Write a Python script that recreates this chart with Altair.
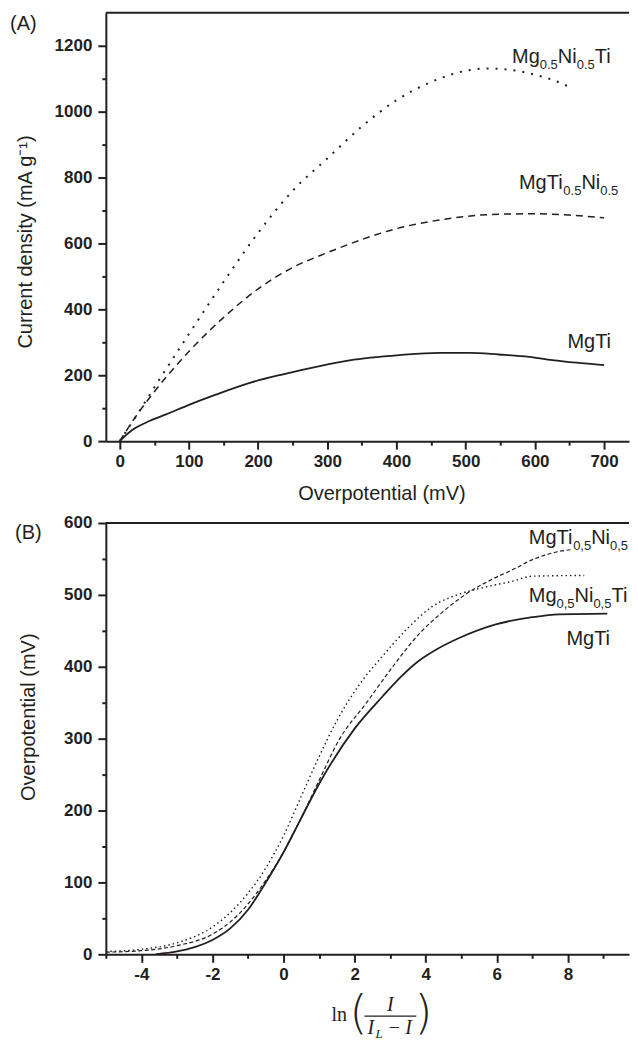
import altair as alt
import pandas as pd

INK = "#231f20"
SANS = "Liberation Sans"
SERIF = "Liberation Serif"

# ---------------- panel (A): current density vs overpotential ----------------
a_mgti_x = [0, 19, 43, 67, 101, 140, 188, 236, 289, 332, 404, 462, 505, 548, 592, 625, 660, 700]
a_mgti_y = [0, 35, 61, 81, 111, 142, 177, 203, 228, 245, 261, 268, 268, 263, 256, 246, 238, 231]
a_mgtini_x = [0, 25, 50, 100, 150, 200, 250, 300, 350, 400, 450, 500, 550, 600, 650, 700]
a_mgtini_y = [0, 80, 150, 272, 375, 462, 527, 572, 612, 645, 667, 682, 689, 690, 686, 678]
a_mgniti_x = [0, 25, 50, 100, 150, 200, 250, 300, 350, 400, 450, 500, 530, 560, 600, 630, 654]
a_mgniti_y = [0, 80, 163, 325, 483, 632, 760, 858, 955, 1035, 1090, 1124, 1131, 1128, 1112, 1093, 1071]

# ---------------- panel (B): overpotential vs ln(I/(IL-I)) ----------------
b_mgti_x = [-3.6, -3.0, -2.5, -2.0, -1.5, -1.0, -0.5, 0.0, 0.45, 1.01, 2.0, 2.79, 3.3, 3.8, 4.3, 4.94, 5.97, 7.0, 7.75, 9.11]
b_mgti_y = [0, 4, 10, 20, 36, 62, 100, 142, 185, 238, 314, 359, 386, 408, 424, 440, 459, 469, 473, 474]
b_mgniti_x = [-5.0, -4.0, -3.0, -2.0, -1.5, -1.0, -0.5, 0.0, 0.5, 1.0, 1.5, 2.13, 2.79, 3.54, 4.19, 4.94, 5.69, 6.44, 7.0, 8.46]
b_mgniti_y = [4, 7, 16, 38, 58, 85, 120, 165, 220, 275, 325, 375, 415, 456, 484, 501, 511, 519, 526, 527]
b_mgtini_x = [-5.0, -4.0, -3.0, -2.0, -1.5, -1.0, -0.5, 0.0, 0.45, 1.01, 1.57, 2.32, 3.07, 3.82, 4.47, 5.13, 5.88, 6.53, 7.0, 7.4, 7.7, 8.12]
b_mgtini_y = [3, 5, 12, 28, 45, 70, 103, 142, 185, 243, 299, 349, 400, 446, 476, 501, 522, 537, 549, 556, 560, 563]

# ---------------- annotation texts (main, subscript) ----------------
a_labels = [
    [("Mg", 0), ("0.5", 1), ("Ni", 0), ("0.5", 1), ("Ti", 0)],
    [("MgTi", 0), ("0.5", 1), ("Ni", 0), ("0.5", 1)],
    [("MgTi", 0)],
]
a_label_x = [567, 577, 647]
a_label_y = [1149, 764, 282]
b_labels = [
    [("MgTi", 0), ("0,5", 1), ("Ni", 0), ("0,5", 1)],
    [("Mg", 0), ("0,5", 1), ("Ni", 0), ("0,5", 1), ("Ti", 0)],
    [("MgTi", 0)],
]
b_label_x = [6.9, 6.9, 7.96]
b_label_y = [571, 490, 430]

a_x_ticks = list(range(0, 701, 50))
a_y_ticks = list(range(0, 1201, 100))
b_x_ticks = list(range(-5, 10))
b_y_ticks = list(range(0, 601, 50))

# ---------------- layout / style ----------------
W = 524
HA = 429
HB = 432
MAIN, SUB = 20, 13
ARIAL_W = {"M": 833, "g": 556, "N": 722, "i": 222, "T": 611, "0": 556, ".": 278, ",": 278, "5": 556}


def text_width(s, size):
    return sum(ARIAL_W.get(c, 556) for c in s) * size / 1000.0


def ticksize(step):
    return {"condition": {"test": f"datum.value % {step} === 0", "value": 8}, "value": 4}


xa_scale = alt.Scale(domain=[-20, 736], nice=False, zero=False)
ya_scale = alt.Scale(domain=[0, 1300], nice=False, zero=False)
xb_scale = alt.Scale(domain=[-5, 9.72], nice=False, zero=False)
yb_scale = alt.Scale(domain=[0, 600], nice=False, zero=False)

xa_axis = alt.Axis(title="Overpotential (mV)", values=a_x_ticks,
                   labelExpr="datum.value % 100 === 0 ? toString(datum.value) : ''",
                   tickSize=ticksize(100), labelPadding=4,
                   titleX=276, titleY=58, titleBaseline="alphabetic", titleAlign="center")
ya_axis = alt.Axis(title="Current density (mA g\u207b\u00b9)", values=a_y_ticks,
                   labelExpr="datum.value % 200 === 0 ? toString(datum.value) : ''",
                   tickSize=ticksize(200), labelPadding=6,
                   titleX=-74, titleY=229, titleAngle=270, titleBaseline="alphabetic", titleAlign="center")
xb_axis = alt.Axis(title="", values=b_x_ticks,
                   labelExpr="datum.value % 2 === 0 ? toString(datum.value) : ''",
                   tickSize=ticksize(2), labelPadding=4)
yb_axis = alt.Axis(title="Overpotential (mV)", values=b_y_ticks,
                   labelExpr="datum.value % 100 === 0 ? toString(datum.value) : ''",
                   tickSize=ticksize(100), labelPadding=6,
                   titleX=-71, titleY=194, titleAngle=270, titleBaseline="alphabetic", titleAlign="center")

PANEL_A = (xa_scale, ya_scale, xa_axis, ya_axis)
PANEL_B = (xb_scale, yb_scale, xb_axis, yb_axis)


def xy(panel):
    xs, ys, xax, yax = panel
    return dict(x=alt.X("x:Q", scale=xs, axis=xax), y=alt.Y("y:Q", scale=ys, axis=yax))


def line_layer(xs, ys, panel, width, dash=None):
    df = pd.DataFrame({"x": xs, "y": ys})
    kw = dict(color=INK, strokeWidth=width, interpolate="monotone", clip=True)
    if dash is not None:
        kw["strokeDash"] = dash
    return alt.Chart(df).mark_line(**kw).encode(**xy(panel))


def label_layers(parts, x, y, panel):
    layers = []
    off = 0.0
    for txt, is_sub in parts:
        size = SUB if is_sub else MAIN
        df = pd.DataFrame({"x": [x], "y": [y], "t": [txt]})
        layers.append(
            alt.Chart(df).mark_text(align="left", baseline="alphabetic", dx=off,
                                    dy=6 if is_sub else 0, fontSize=size, font=SANS, color=INK)
            .encode(text="t:N", **xy(panel))
        )
        off += text_width(txt, size)
    return layers


def fixed_text(txt, px, py, size, font=SANS, style="normal", align="left",
               baseline="alphabetic", weight="normal"):
    df = pd.DataFrame({"t": [txt]})
    return alt.Chart(df).mark_text(align=align, baseline=baseline, fontSize=size, font=font,
                                   fontStyle=style, fontWeight=weight, color=INK).encode(
        x=alt.value(px), y=alt.value(py), text="t:N")


def top_border(w):
    return alt.Chart(pd.DataFrame({"a": [0]})).mark_rule(color=INK, strokeWidth=2).encode(
        x=alt.value(0), x2=alt.value(w), y=alt.value(0))


# ---------------- panel A ----------------
a_layers = [
    line_layer(a_mgti_x, a_mgti_y, PANEL_A, 1.8),
    line_layer(a_mgtini_x, a_mgtini_y, PANEL_A, 1.5, [7, 5]),
    line_layer(a_mgniti_x, a_mgniti_y, PANEL_A, 2, [2, 7]),
]
for parts, lx, ly in zip(a_labels, a_label_x, a_label_y):
    a_layers += label_layers(parts, lx, ly, PANEL_A)
a_layers += [top_border(W), fixed_text("(A)", -96, 17, 20)]
panel_a = alt.layer(*a_layers).properties(width=W, height=HA)

# ---------------- panel B ----------------
FB = 494  # fraction bar position below the plot top
b_layers = [
    line_layer(b_mgti_x, b_mgti_y, PANEL_B, 1.8),
    line_layer(b_mgtini_x, b_mgtini_y, PANEL_B, 1.2, [4, 2.5]),
    line_layer(b_mgniti_x, b_mgniti_y, PANEL_B, 1.4, [1.5, 3]),
]
for parts, lx, ly in zip(b_labels, b_label_x, b_label_y):
    b_layers += label_layers(parts, lx, ly, PANEL_B)
b_layers += [
    top_border(W),
    fixed_text("(B)", -91, 16, 20),
    # x-axis title: ln( I / (I_L - I) )
    fixed_text("ln", 226, FB + 5, 20, font=SERIF),
    fixed_text("(", 253, FB - 2, 46, font="DejaVu Sans", align="center", baseline="middle", weight=200),
    fixed_text(")", 318, FB - 2, 46, font="DejaVu Sans", align="center", baseline="middle", weight=200),
    fixed_text("I", 285, FB - 5, 20, font=SERIF, style="italic", align="center"),
    fixed_text("I", 262, FB + 18, 20, font=SERIF, style="italic"),
    fixed_text("L", 270, FB + 22, 13, font=SERIF, style="italic"),
    fixed_text("\u2212", 289, FB + 18, 20, font=SERIF, align="center"),
    fixed_text("I", 300, FB + 18, 20, font=SERIF, style="italic"),
    alt.Chart(pd.DataFrame({"a": [0]})).mark_rule(color=INK, strokeWidth=1.2).encode(
        x=alt.value(259), x2=alt.value(311), y=alt.value(FB)),
]
panel_b = alt.layer(*b_layers).properties(width=W, height=HB)

chart = (
    alt.vconcat(panel_a, panel_b, spacing=82, bounds="flush")
    .properties(padding={"left": 2, "top": 3, "right": 0, "bottom": 0})
    .configure_view(strokeOpacity=0)
    .configure_axis(domainColor=INK, domainWidth=2, tickColor=INK, tickWidth=2,
                    labelFont=SANS, labelFontSize=17, labelFontWeight="bold", labelColor=INK,
                    titleFont=SANS, titleFontSize=20, titleFontWeight="normal", titleColor=INK,
                    grid=False, labelFlush=False, labelOverlap=False)
)

chart.save("out.html", embed_options={"renderer": "svg", "actions": False})
